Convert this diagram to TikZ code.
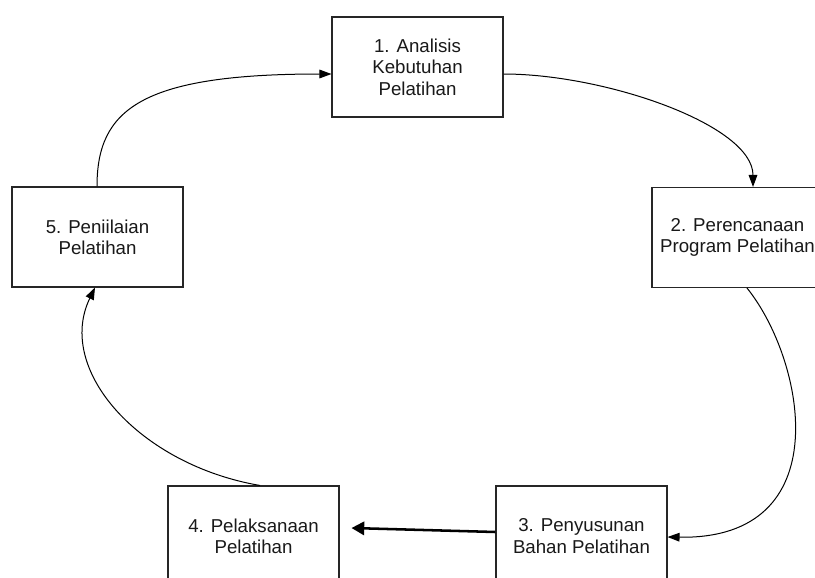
\documentclass[tikz,border=0pt]{standalone}
\usepackage{fontspec}
\setmainfont{Liberation Sans}
\usetikzlibrary{arrows.meta,calc}
\tikzset{
  stepbox/.style={draw=black!85, line width=0.8pt, fill=white, rectangle,
    minimum width=128.25pt, minimum height=75pt, inner sep=0pt,
    align=center, font=\fontsize{14}{16}\selectfont, text=black!90},
  conn/.style={draw=black, line width=0.75pt, -{Triangle[length=9pt,width=6.5pt]}},
  thickconn/.style={draw=black, line width=1.9pt, -{Triangle[length=9.5pt,width=10pt]}}
}
\begin{document}
\begin{tikzpicture}[x=0.75pt,y=-0.75pt]
\useasboundingbox (0,0) rectangle (815,578);
\node[stepbox] (b1) at (417.5,67) {1. Analisis\\Kebutuhan\\Pelatihan};
\node[stepbox] (b2) at (737.5,237.5) {2. Perencanaan\\Program Pelatihan};
\node[stepbox] (b3) at (581.5,536) {3. Penyusunan\\Bahan Pelatihan};
\node[stepbox] (b4) at (253.5,536) {4. Pelaksanaan\\Pelatihan};
\node[stepbox] (b5) at (97.5,237) {5. Peniilaian\\Pelatihan};
% 5 -> 1
\draw[conn] ($(b5.north)+(-0.5,0)$) .. controls (97,110) and (140,74) .. ($(b1.west)+(0,7)$);
% 1 -> 2
\draw[conn] ($(b1.east)+(0,7)$) .. controls (605,74) and (753,125) .. ($(b2.north)+(15.5,0)$);
% 2 -> 3
\draw[conn] ($(b2.south)+(9.5,0)$) .. controls (805,360) and (840,540) .. ($(b3.east)+(0,1)$);
% 3 -> 4
\coordinate (t4) at ($(b4.east)+(12,-8)$);
\draw[thickconn] ($(b3.west)+(0,-4)$) -- (t4);
% 4 -> 5
\draw[conn] ($(b4.north)+(6.5,0)$) .. controls (140,465) and (55,370) .. ($(b5.south)+(-2.5,0)$);
\end{tikzpicture}
\end{document}
